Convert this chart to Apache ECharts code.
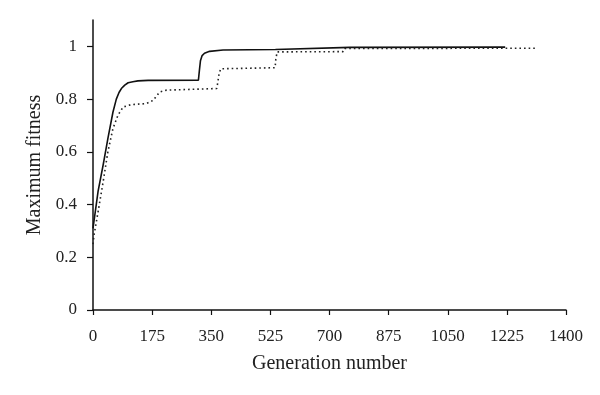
<!DOCTYPE html>
<html>
<head>
<meta charset="utf-8">
<script src="https://cdn.jsdelivr.net/npm/echarts@6/dist/echarts.min.js"></script>
<style>html,body{margin:0;padding:0;background:#fff;}#c{width:600px;height:395px;}</style>
</head>
<body>
<div id="c"></div>
<script>
// Generation / fitness pairs for the solid curve
var solidGen = [0, 15, 30, 44, 59, 69, 77, 84, 94, 104, 118, 133, 163, 312, 315, 318, 323, 330, 345, 385, 540, 545, 760, 1220];
var solidFit = [0.31, 0.45, 0.55, 0.65, 0.75, 0.80, 0.825, 0.84, 0.853, 0.862, 0.866, 0.869, 0.871, 0.872, 0.91, 0.945, 0.965, 0.974, 0.981, 0.986, 0.988, 0.994, 0.996, 0.997];
// Generation / fitness pairs for the dotted curve
var dottedGen = [0, 3, 15, 30, 44, 59, 74, 89, 113, 158, 178, 190, 198, 218, 366, 369, 373, 378, 539, 541, 545, 740, 745, 1310];
var dottedFit = [0.25, 0.284, 0.372, 0.486, 0.60, 0.688, 0.739, 0.77, 0.779, 0.783, 0.795, 0.815, 0.827, 0.834, 0.84, 0.86, 0.895, 0.915, 0.919, 0.95, 0.979, 0.98, 0.992, 0.993];
var xTicks = [0, 175, 350, 525, 700, 875, 1050, 1225, 1400];
var yTicks = [0, 0.2, 0.4, 0.6, 0.8, 1];

function zip(a, b) { return a.map(function (v, i) { return [v, b[i]]; }); }

var font = '"Liberation Serif", "DejaVu Serif", serif';
var chart = echarts.init(document.getElementById('c'), null, { renderer: 'canvas' });
chart.setOption({
  animation: false,
  backgroundColor: '#ffffff',
  grid: { left: 93, right: 34, top: 20, bottom: 85, containLabel: false },
  xAxis: {
    type: 'value', min: 0, max: 1400, interval: 175,
    name: 'Generation number', nameLocation: 'middle', nameGap: 44,
    nameTextStyle: { fontFamily: font, fontSize: 20, color: '#222' },
    axisLine: { show: true, lineStyle: { color: '#111', width: 1.5 } },
    axisTick: { show: true, length: 5, customValues: xTicks, lineStyle: { color: '#111', width: 1.2 } },
    axisLabel: { fontFamily: font, fontSize: 17, color: '#222', margin: 18, customValues: xTicks,
      formatter: function (v) { return String(v); } },
    splitLine: { show: false }
  },
  yAxis: {
    type: 'value', min: 0, max: 1.1,
    name: 'Maximum fitness', nameLocation: 'middle', nameGap: 48, nameRotate: 90,
    nameTextStyle: { fontFamily: font, fontSize: 20, color: '#222' },
    axisLine: { show: true, lineStyle: { color: '#111', width: 1.5 } },
    axisTick: { show: true, length: 6, customValues: yTicks, lineStyle: { color: '#111', width: 1.2 } },
    axisLabel: { fontFamily: font, fontSize: 17, color: '#222', margin: 16, customValues: yTicks,
      formatter: function (v) { return String(Number(v.toFixed(1))); } },
    splitLine: { show: false }
  },
  series: [
    { type: 'line', data: zip(solidGen, solidFit), showSymbol: false, symbol: 'none',
      lineStyle: { color: '#111', width: 1.6 } },
    { type: 'line', data: zip(dottedGen, dottedFit), showSymbol: false, symbol: 'none',
      lineStyle: { color: '#222', width: 1.6, type: [1.6, 3] } }
  ]
});
</script>
</body>
</html>
